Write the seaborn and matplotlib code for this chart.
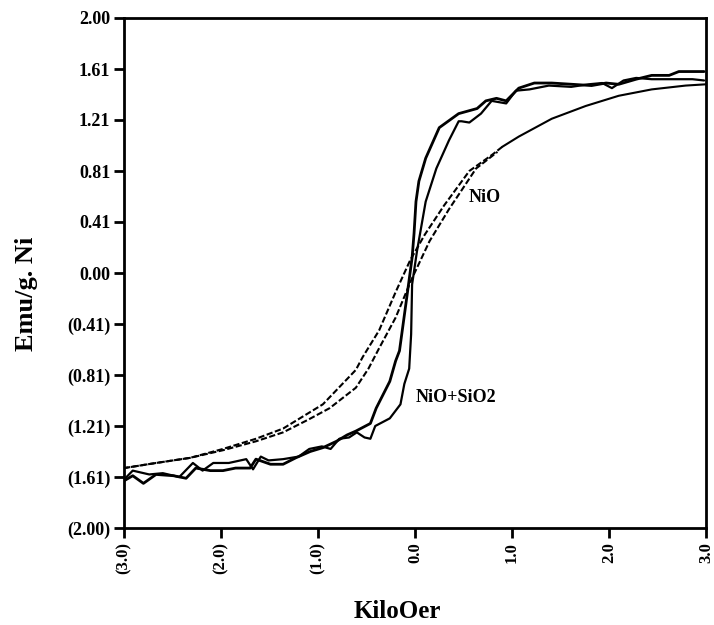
import numpy as np
import pandas as pd
import matplotlib
matplotlib.use('Agg')
import matplotlib.pyplot as plt
import seaborn as sns

# ------------------------------------------------------------
# data (field in kOe, magnetisation in emu/g Ni)
# ------------------------------------------------------------
# NiO + SiO2 loop, descending branch (+3 -> -3)
sio2_desc_x = [2.98, 2.86, 2.72, 2.62, 2.44, 2.28, 2.10, 1.97, 1.82, 1.62, 1.41, 1.23,
               1.07, 0.94, 0.84, 0.73, 0.64, 0.45, 0.25, 0.11, 0.04, 0.01, -0.01, -0.03,
               -0.09, -0.16, -0.20, -0.26, -0.40, -0.46, -0.61, -0.70, -0.81, -0.95,
               -1.08, -1.23, -1.36, -1.49, -1.64, -1.70, -1.85, -1.98, -2.11, -2.26,
               -2.36, -2.49, -2.67, -2.80, -2.91, -3.00]
sio2_desc_y = [1.58, 1.58, 1.58, 1.55, 1.55, 1.52, 1.48, 1.49, 1.47, 1.48, 1.49, 1.49,
               1.45, 1.35, 1.37, 1.35, 1.29, 1.25, 1.14, 0.90, 0.72, 0.56, 0.31, 0.12,
               -0.22, -0.61, -0.69, -0.85, -1.06, -1.18, -1.24, -1.27, -1.32, -1.37,
               -1.40, -1.45, -1.50, -1.50, -1.46, -1.53, -1.53, -1.55, -1.55, -1.53,
               -1.61, -1.59, -1.58, -1.65, -1.59, -1.63]

# NiO + SiO2 loop, ascending branch (-3 -> +3)
sio2_asc_x = [-3.00, -2.91, -2.74, -2.60, -2.43, -2.29, -2.19, -2.08, -1.92, -1.74,
              -1.67, -1.59, -1.51, -1.36, -1.20, -1.09, -0.96, -0.87, -0.78, -0.68,
              -0.60, -0.52, -0.46, -0.41, -0.26, -0.15, -0.11, -0.06, -0.04, -0.03,
              0.02, 0.11, 0.22, 0.35, 0.45, 0.48, 0.56, 0.68, 0.79, 0.94, 1.04, 1.18,
              1.38, 1.61, 1.79, 1.93, 2.03, 2.15, 2.28, 2.44, 2.65, 2.86, 2.98]
sio2_asc_y = [-1.62, -1.55, -1.58, -1.57, -1.60, -1.49, -1.55, -1.49, -1.49, -1.46,
              -1.54, -1.44, -1.47, -1.46, -1.44, -1.38, -1.36, -1.38, -1.30, -1.29,
              -1.25, -1.29, -1.30, -1.20, -1.14, -1.03, -0.87, -0.75, -0.48, -0.09,
              0.17, 0.56, 0.82, 1.04, 1.19, 1.19, 1.18, 1.25, 1.35, 1.33, 1.43, 1.44,
              1.47, 1.46, 1.48, 1.49, 1.45, 1.51, 1.53, 1.52, 1.52, 1.52, 1.51]

# NiO loop, descending branch
nio_desc_x = [3.00, 2.79, 2.44, 2.10, 1.76, 1.41, 1.07, 0.90, 0.80, 0.56, 0.30, 0.10,
              -0.05, -0.20, -0.37, -0.54, -0.61, -0.95, -1.36, -1.64, -1.98, -2.32,
              -2.67, -3.00]
nio_desc_y = [1.48, 1.47, 1.44, 1.39, 1.31, 1.21, 1.07, 0.99, 0.93, 0.80, 0.53, 0.30,
              0.10, -0.15, -0.45, -0.66, -0.76, -1.03, -1.22, -1.30, -1.38, -1.45,
              -1.49, -1.53]

# NiO loop, ascending branch
nio_asc_x = [-3.00, -2.67, -2.32, -1.98, -1.64, -1.36, -1.10, -0.88, -0.61, -0.48,
             -0.37, -0.20, -0.03, 0.15, 0.35, 0.63, 0.85, 1.07]
nio_asc_y = [-1.53, -1.49, -1.45, -1.39, -1.32, -1.25, -1.15, -1.06, -0.90, -0.75,
             -0.59, -0.35, -0.04, 0.25, 0.50, 0.82, 0.95, 1.07]

x_ticks = [-3, -2, -1, 0, 1, 2, 3]
x_labels = ['(3.0)', '(2.0)', '(1.0)', '0.0', '1.0', '2.0', '3.0']
y_ticks = [-2.0, -1.6, -1.2, -0.8, -0.4, 0.0, 0.4, 0.8, 1.2, 1.6, 2.0]
y_labels = ['(2.00)', '(1.61)', '(1.21)', '(0.81)', '(0.41)', '0.00',
            '0.41', '0.81', '1.21', '1.61', '2.00']

# ------------------------------------------------------------
# style
# ------------------------------------------------------------
sns.set_theme(style='ticks')
plt.rcParams['font.family'] = ['Liberation Serif', 'DejaVu Serif']
plt.rcParams['font.weight'] = 'bold'
plt.rcParams['text.color'] = 'black'
plt.rcParams['axes.labelcolor'] = 'black'
plt.rcParams['xtick.color'] = 'black'
plt.rcParams['ytick.color'] = 'black'

fig = plt.figure(figsize=(7.14, 6.25), dpi=100)
ax = fig.add_axes([0.1737, 0.1552, 0.8151, 0.8160])

sio2_desc = pd.DataFrame({'H': sio2_desc_x, 'M': sio2_desc_y})
sio2_asc = pd.DataFrame({'H': sio2_asc_x, 'M': sio2_asc_y})
nio_desc = pd.DataFrame({'H': nio_desc_x, 'M': nio_desc_y})
nio_asc = pd.DataFrame({'H': nio_asc_x, 'M': nio_asc_y})

# NiO: solid where both branches coincide, dashed in the open part of the loop
sns.lineplot(data=nio_desc[nio_desc['H'] >= 0.9], x='H', y='M', ax=ax,
             sort=False, estimator=None, color='black', linewidth=1.5)
sns.lineplot(data=nio_desc[nio_desc['H'] <= 0.9], x='H', y='M', ax=ax,
             sort=False, estimator=None, color='black', linewidth=1.5,
             dashes=False, linestyle=(0, (3, 1.2)))
sns.lineplot(data=nio_asc[nio_asc['H'] <= 0.9], x='H', y='M', ax=ax,
             sort=False, estimator=None, color='black', linewidth=1.5,
             dashes=False, linestyle=(0, (3, 1.2)))

sns.lineplot(data=sio2_desc, x='H', y='M', ax=ax, sort=False, estimator=None,
             color='black', linewidth=2.0)
sns.lineplot(data=sio2_asc, x='H', y='M', ax=ax, sort=False, estimator=None,
             color='black', linewidth=1.6)

ax.text(0.72, 0.59, 'NiO', fontsize=13, fontweight='bold', ha='center', va='center')
ax.text(0.42, -0.98, 'NiO+SiO2', fontsize=13, fontweight='bold', ha='center', va='center')

ax.set_xlim(-3, 3)
ax.set_ylim(-2, 2)
ax.set_xticks(x_ticks)
ax.set_xticklabels(x_labels, rotation=90, fontsize=12, fontweight='bold')
ax.set_yticks(y_ticks)
ax.set_yticklabels(y_labels, fontsize=13, fontweight='bold')
ax.tick_params(direction='out', length=7, width=2, color='black', pad=3)

for side in ['left', 'right', 'top', 'bottom']:
    ax.spines[side].set_visible(True)
    ax.spines[side].set_linewidth(2)
    ax.spines[side].set_color('black')

ax.set_xlabel('KiloOer', fontsize=18, fontweight='bold')
ax.set_ylabel('Emu/g. Ni', fontsize=19, fontweight='bold')
ax.xaxis.label.set_verticalalignment('center')
ax.xaxis.set_label_coords(0.47, -0.163)
ax.yaxis.label.set_verticalalignment('center')
ax.yaxis.set_label_coords(-0.167, 0.46)

plt.savefig('out.png', dpi=100)
plt.close()
